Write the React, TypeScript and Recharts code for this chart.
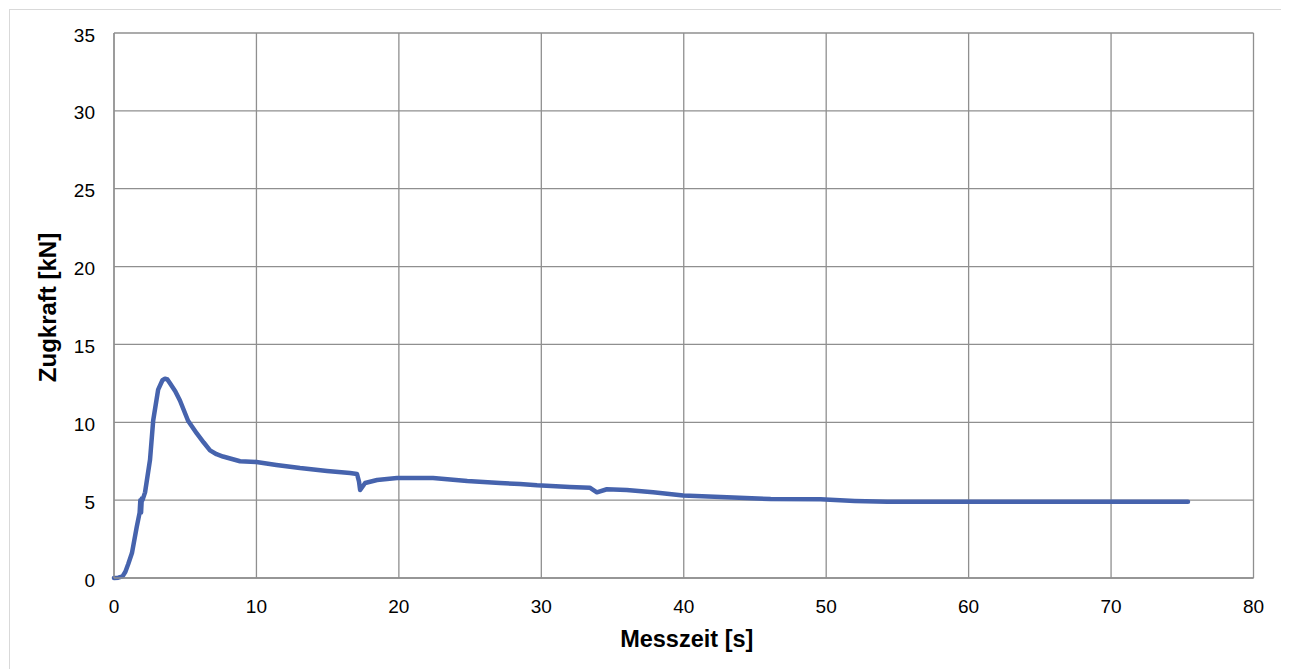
import React from 'react';
import { LineChart, Line, XAxis, YAxis, CartesianGrid, Label } from 'recharts';

const timeSeconds = [0, 0.3, 0.6, 0.8, 1.0, 1.26, 1.6, 1.8, 1.85, 1.9, 1.95, 2.0, 2.18, 2.53, 2.75, 3.1, 3.4, 3.58, 3.75, 3.93, 4.3, 4.63, 5.2, 5.8, 6.3, 6.74, 7.2, 7.65, 8.85, 10.0, 11.4, 13.06, 14.96, 16.57, 17.06, 17.2, 17.28, 17.63, 18.47, 19.87, 22.4, 24.8, 27.1, 28.5, 29.7, 32.0, 33.4, 33.9, 34.6, 36.0, 37.85, 39.96, 42.6, 46.1, 49.6, 52.0, 54.3, 60, 65, 70, 75.4];
const forceKN = [0, 0.02, 0.1, 0.4, 0.9, 1.6, 3.3, 4.2, 5.0, 4.2, 5.1, 5.0, 5.5, 7.6, 10.1, 12.1, 12.7, 12.8, 12.75, 12.5, 12.0, 11.4, 10.1, 9.3, 8.7, 8.2, 7.95, 7.8, 7.5, 7.45, 7.26, 7.06, 6.87, 6.74, 6.68, 6.2, 5.65, 6.1, 6.29, 6.42, 6.42, 6.23, 6.1, 6.04, 5.95, 5.85, 5.8, 5.5, 5.7, 5.65, 5.5, 5.3, 5.2, 5.07, 5.05, 4.95, 4.9, 4.9, 4.9, 4.9, 4.9];

const xTicks = [0, 10, 20, 30, 40, 50, 60, 70, 80];
const yTicks = [0, 5, 10, 15, 20, 25, 30, 35];

const data = timeSeconds.map((t, i) => ({ t, f: forceKN[i] }));

const FONT = '"Liberation Sans", Arial, sans-serif';
const GRID = '#8f8f8f';

const XTick = (props: any) => {
  const { x, y, payload } = props;
  return (
    <text x={x} y={y + 35} textAnchor="middle" fontSize={19} fontFamily={FONT} fill="#000">
      {payload.value}
    </text>
  );
};

const YTick = (props: any) => {
  const { x, y, payload } = props;
  return (
    <text x={x - 19} y={y + 8.5} textAnchor="end" fontSize={19} fontFamily={FONT} fill="#000">
      {payload.value}
    </text>
  );
};

export default function App() {
  return (
    <div
      style={{
        position: 'relative',
        top: 1,
        left: 1,
        width: 1280,
        height: 661,
        boxSizing: 'border-box',
        borderTop: '1px solid #d9d9d9',
        borderLeft: '1px solid #d9d9d9',
        background: '#fff',
      }}
    >
      <LineChart
        width={1279}
        height={660}
        data={data}
        margin={{ top: 23, right: 35.5, left: 0, bottom: 0 }}
      >
        <CartesianGrid stroke={GRID} strokeWidth={1.3} />
        <XAxis
          dataKey="t"
          type="number"
          domain={[0, 80]}
          ticks={xTicks}
          interval={0}
          height={92}
          tickSize={0}
          tickMargin={0}
          tickLine={false}
          axisLine={{ stroke: GRID, strokeWidth: 1.3 }}
          tick={<XTick />}
        >
          <Label
            content={(p: any) => {
              const vb = p.viewBox;
              return (
                <text
                  x={vb.x + vb.width / 2 + 3}
                  y={vb.y + 69}
                  textAnchor="middle"
                  fontSize={23.5}
                  fontWeight="bold"
                  fontFamily={FONT}
                  fill="#000"
                >
                  Messzeit [s]
                </text>
              );
            }}
          />
        </XAxis>
        <YAxis
          type="number"
          domain={[0, 35]}
          ticks={yTicks}
          interval={0}
          width={104}
          tickSize={0}
          tickMargin={0}
          tickLine={false}
          axisLine={{ stroke: GRID, strokeWidth: 1.3 }}
          tick={<YTick />}
        >
          <Label
            content={(p: any) => {
              const vb = p.viewBox;
              const cx = 38 + 8;
              const cy = vb.y + vb.height / 2 + 2;
              return (
                <text
                  x={cx}
                  y={cy}
                  textAnchor="middle"
                  fontSize={24}
                  fontWeight="bold"
                  fontFamily={FONT}
                  fill="#000"
                  transform={`rotate(-90, ${cx}, ${cy})`}
                >
                  Zugkraft [kN]
                </text>
              );
            }}
          />
        </YAxis>
        <Line
          type="linear"
          dataKey="f"
          stroke="#4663ad"
          strokeWidth={4.5}
          strokeLinejoin="round"
          strokeLinecap="round"
          dot={false}
          activeDot={false}
          isAnimationActive={false}
        />
      </LineChart>
    </div>
  );
}
